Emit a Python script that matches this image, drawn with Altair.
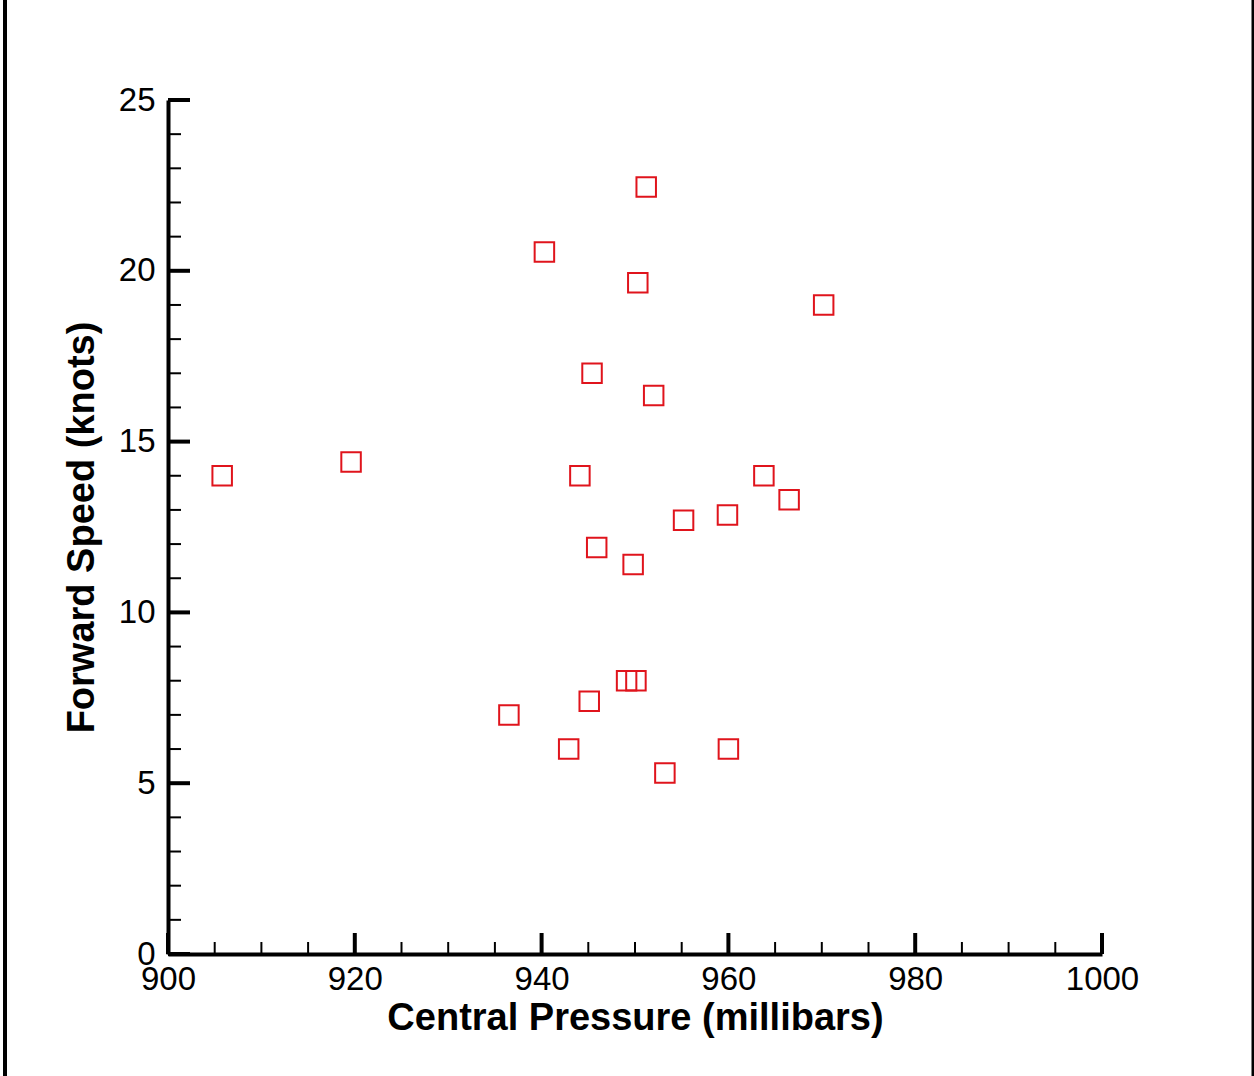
import altair as alt
import pandas as pd

# Data
pressure = [905.8, 919.6, 940.3, 951.2, 950.3, 970.2, 945.4, 952.0, 944.1, 963.8,
            966.5, 955.2, 959.9, 945.9, 949.8, 949.1, 950.1, 936.5, 945.1, 942.9,
            960.0, 953.2]
speed = [14.0, 14.4, 20.55, 22.45, 19.65, 19.0, 17.0, 16.35, 14.0, 14.0,
         13.3, 12.7, 12.85, 11.9, 11.4, 8.0, 8.0, 7.0, 7.4, 6.0,
         6.0, 5.3]

x_major = [900, 920, 940, 960, 980, 1000]
x_minor = [905, 910, 915, 925, 930, 935, 945, 950, 955, 965, 970, 975, 985, 990, 995]
y_major = [0, 5, 10, 15, 20, 25]
y_minor = [1, 2, 3, 4, 6, 7, 8, 9, 11, 12, 13, 14, 16, 17, 18, 19, 21, 22, 23, 24]

W, H = 934, 854
FONT = "Liberation Sans"
RED = "#e0141c"

df = pd.DataFrame({"pressure": pressure, "speed": speed})
xscale = alt.Scale(domain=[900, 1000], nice=False, zero=False)
yscale = alt.Scale(domain=[0, 25], nice=False)

points = alt.Chart(df).mark_point(
    shape="square", filled=False, size=380, color=RED, strokeWidth=2, opacity=1
).encode(
    x=alt.X("pressure:Q", scale=xscale,
            axis=alt.Axis(values=x_major, format="d", title="Central Pressure (millibars)",
                          ticks=False, grid=False, domainColor="black", domainWidth=4,
                          labelFont=FONT, labelFontSize=33, labelColor="black",
                          labelPadding=9, labelFlush=False, labelOverlap=False,
                          titleFont=FONT, titleFontSize=38, titleFontWeight="bold",
                          titleColor="black", titlePadding=3)),
    y=alt.Y("speed:Q", scale=yscale,
            axis=alt.Axis(values=y_major, format="d", title="Forward Speed (knots)",
                          ticks=False, grid=False, domainColor="black", domainWidth=4,
                          labelFont=FONT, labelFontSize=33, labelColor="black",
                          labelPadding=13, labelFlush=False, labelOverlap=False,
                          titleFont=FONT, titleFontSize=38, titleFontWeight="bold",
                          titleColor="black", titlePadding=17)),
)

xmaj = alt.Chart(pd.DataFrame({"v": x_major})).mark_rule(color="black", strokeWidth=4).encode(
    x=alt.X("v:Q", scale=xscale), y=alt.value(H), y2=alt.value(H - 21))
xmin = alt.Chart(pd.DataFrame({"v": x_minor})).mark_rule(color="black", strokeWidth=2).encode(
    x=alt.X("v:Q", scale=xscale), y=alt.value(H), y2=alt.value(H - 12))
ymaj = alt.Chart(pd.DataFrame({"v": y_major})).mark_rule(color="black", strokeWidth=4).encode(
    y=alt.Y("v:Q", scale=yscale), x=alt.value(0), x2=alt.value(22))
ymin = alt.Chart(pd.DataFrame({"v": y_minor})).mark_rule(color="black", strokeWidth=2).encode(
    y=alt.Y("v:Q", scale=yscale), x=alt.value(0), x2=alt.value(13))

one = pd.DataFrame({"a": [0]})
left_border = alt.Chart(one).mark_rule(color="black", strokeWidth=4).encode(
    x=alt.value(-163), y=alt.value(-100), y2=alt.value(H + 122))
right_border = alt.Chart(one).mark_rule(color="black", strokeWidth=3).encode(
    x=alt.value(W + 151), y=alt.value(-100), y2=alt.value(H + 122))

chart = alt.layer(points, xmaj, xmin, ymaj, ymin, left_border, right_border).properties(
    width=W, height=H,
    autosize=alt.AutoSizeParams(type="none"),
    padding={"left": 168, "top": 100, "right": 152, "bottom": 122},
    background="white",
).configure_view(stroke=None)

chart.save("out.html", embed_options={"renderer": "svg", "actions": False})
